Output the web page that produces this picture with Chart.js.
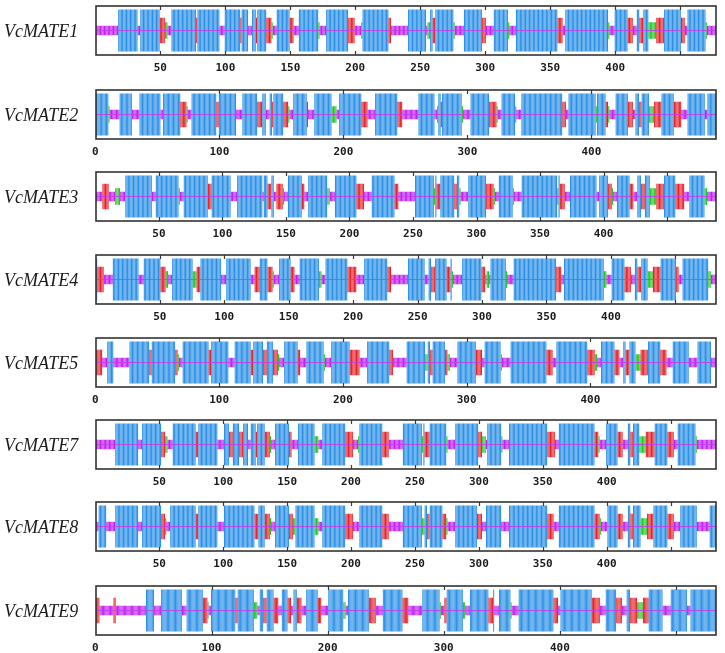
<!DOCTYPE html>
<html>
<head>
<meta charset="utf-8">
<script src="https://cdn.jsdelivr.net/npm/chart.js@4.4.1/dist/chart.umd.min.js"></script>
<style>
  body { margin: 0; background: #fff; }
  #wrap { position: relative; width: 725px; height: 653px; overflow: hidden; background: #fff; }
  .row { position: absolute; left: 0; width: 725px; height: 80px; }
  .row canvas { position: absolute; left: 0; top: 0; }
  .name { position: absolute; left: 4px; font: italic 18px "Liberation Serif", "Times New Roman", serif; color: #1a1a1a; line-height: 20px; }
</style>
</head>
<body>
<div id="wrap"></div>
<script>
// h = alpha helix, e = extended strand, t = beta turn, c = random coil
// segments are [state, first residue, last residue]
const VcMATE1 = [['c',1,17],['h',18,32],['c',33,34],['h',35,49],['e',50,53],['t',54,55],['c',56,58],['h',59,77],['e',78,78],['h',79,95],['c',96,99],['h',100,111],['e',112,112],['h',113,117],['c',118,120],['h',121,123],['e',124,124],['h',125,131],['e',132,135],['t',136,136],['c',137,139],['h',140,149],['e',150,152],['c',153,156],['h',157,171],['t',172,172],['c',173,177],['h',178,194],['e',195,199],['c',200,204],['t',205,205],['h',206,225],['e',226,227],['c',228,240],['h',241,254],['c',255,255],['t',256,257],['h',258,259],['e',260,261],['h',262,275],['t',276,276],['c',277,283],['h',284,297],['e',298,300],['c',301,306],['h',307,317],['t',318,318],['c',319,323],['h',324,355],['e',356,359],['c',360,361],['h',362,394],['t',395,395],['c',396,399],['h',400,409],['e',410,413],['c',414,416],['h',417,418],['e',419,421],['h',422,425],['t',426,431],['e',432,437],['h',438,450],['e',451,453],['c',454,455],['h',456,469],['t',470,470],['c',471,477]];
const VcMATE2 = [['h',1,10],['t',11,11],['c',12,19],['h',20,29],['c',30,35],['h',36,52],['c',53,54],['h',55,68],['e',69,73],['t',74,74],['c',75,77],['h',78,97],['e',98,99],['h',100,113],['c',114,118],['h',119,130],['e',131,134],['h',135,137],['c',138,140],['h',141,142],['e',143,143],['h',144,151],['e',152,155],['t',156,156],['c',157,159],['h',160,170],['e',171,171],['c',172,176],['h',177,190],['t',191,194],['c',195,196],['h',197,214],['e',215,219],['c',220,225],['h',226,243],['e',244,247],['c',248,260],['h',261,273],['c',274,275],['t',276,276],['h',277,278],['e',279,279],['h',280,295],['t',296,296],['c',297,302],['h',303,317],['e',318,323],['t',324,324],['c',325,327],['h',328,338],['t',339,339],['c',340,343],['h',344,376],['e',377,379],['c',380,381],['h',382,403],['t',404,404],['h',405,411],['e',412,413],['t',414,414],['c',415,419],['h',420,429],['e',430,433],['c',434,435],['h',436,438],['e',439,440],['h',441,446],['t',447,450],['e',451,456],['h',457,466],['e',467,472],['c',473,477],['h',478,491],['c',492,493],['h',494,500]];
const VcMATE3 = [['c',1,5],['e',6,10],['c',11,15],['t',16,19],['c',20,23],['h',24,44],['c',45,47],['h',48,65],['t',66,66],['c',67,69],['h',70,88],['e',89,91],['h',92,106],['c',107,111],['h',112,131],['c',132,132],['h',133,135],['e',136,138],['h',139,140],['c',141,142],['e',143,147],['t',148,148],['c',149,151],['h',152,162],['e',163,164],['c',165,167],['h',168,182],['t',183,184],['c',185,188],['h',189,205],['e',206,211],['c',212,217],['h',218,235],['e',236,238],['c',239,251],['h',252,266],['t',267,267],['h',268,268],['e',269,271],['h',272,282],['e',283,284],['h',285,286],['t',287,287],['c',288,293],['h',294,307],['e',308,313],['t',314,314],['c',315,317],['h',318,328],['t',329,329],['c',330,335],['h',336,363],['t',364,364],['h',365,365],['e',366,369],['c',370,373],['h',374,394],['c',395,396],['h',397,403],['e',404,406],['t',407,407],['c',408,410],['h',411,420],['e',421,423],['c',424,426],['h',427,429],['e',430,432],['h',433,436],['t',437,441],['e',442,447],['h',448,456],['e',457,463],['c',464,467],['h',468,479],['t',480,481],['c',482,488]];
const VcMATE4 = [['h',1,1],['e',2,6],['c',7,13],['h',14,33],['c',34,37],['h',38,50],['e',51,54],['t',55,56],['c',57,59],['h',60,75],['t',76,78],['e',79,81],['h',82,97],['c',98,101],['h',102,120],['c',121,123],['e',124,127],['h',128,133],['e',134,137],['t',138,138],['c',139,142],['h',143,151],['e',152,154],['c',155,158],['h',159,173],['t',174,175],['c',176,178],['h',179,195],['e',196,202],['c',203,208],['h',209,226],['e',227,229],['c',230,242],['h',243,255],['c',256,258],['h',259,260],['e',261,263],['h',264,272],['e',273,275],['h',276,276],['t',277,277],['c',278,284],['h',285,299],['e',300,302],['c',303,303],['t',304,305],['c',306,306],['h',307,318],['t',319,319],['c',320,324],['h',325,357],['e',358,361],['c',362,363],['h',364,394],['t',395,396],['c',397,400],['h',401,410],['e',411,415],['c',416,418],['h',419,420],['e',421,423],['h',424,428],['t',429,432],['e',433,438],['h',439,450],['e',451,452],['c',453,455],['h',456,475],['t',476,477],['c',478,481]];
const VcMATE5 = [['e',1,5],['c',6,9],['h',10,14],['c',15,27],['h',28,43],['e',44,45],['h',46,64],['e',65,66],['t',67,67],['c',68,70],['h',71,91],['e',92,93],['h',94,107],['c',108,112],['h',113,125],['e',126,127],['h',128,135],['e',136,138],['h',139,143],['e',144,147],['t',148,148],['c',149,152],['h',153,163],['e',164,165],['c',166,170],['h',171,184],['t',185,185],['c',186,190],['h',191,205],['e',206,213],['c',214,219],['h',220,237],['e',238,240],['c',241,251],['h',252,266],['t',267,268],['h',269,270],['e',271,272],['h',273,282],['e',283,284],['t',285,286],['c',287,292],['h',293,307],['e',308,312],['c',313,314],['h',315,327],['t',328,328],['c',329,335],['h',336,364],['e',365,369],['c',370,372],['h',373,397],['e',398,403],['t',404,405],['c',406,408],['h',409,419],['e',420,423],['c',424,426],['h',427,428],['e',429,431],['h',432,436],['t',437,440],['e',441,446],['h',447,456],['e',457,461],['c',462,466],['h',467,479],['c',480,486],['h',487,497],['c',498,501]];
const VcMATE7 = [['c',1,15],['h',16,33],['c',34,36],['h',37,51],['e',52,54],['t',55,56],['c',57,60],['h',61,78],['e',79,80],['h',81,95],['c',96,100],['h',101,104],['e',105,107],['h',108,112],['e',113,115],['h',116,119],['c',120,121],['h',122,125],['e',126,126],['h',127,132],['e',133,136],['t',137,137],['c',138,140],['h',141,151],['e',152,153],['c',154,158],['h',159,171],['t',172,174],['c',175,177],['h',178,195],['e',196,201],['c',202,205],['t',206,206],['h',207,224],['e',225,229],['c',230,240],['h',241,255],['t',256,256],['h',257,257],['e',258,261],['h',262,274],['t',275,275],['c',276,281],['h',282,299],['e',300,302],['t',303,305],['c',306,306],['h',307,317],['t',318,318],['c',319,323],['h',324,353],['e',354,359],['c',360,362],['h',363,390],['e',391,393],['t',394,394],['c',395,399],['h',400,408],['e',409,412],['c',413,416],['h',417,418],['e',419,420],['h',421,425],['t',426,430],['e',431,437],['h',438,447],['e',448,452],['c',453,455],['h',456,469],['t',470,470],['c',471,485]];
const VcMATE8 = [['c',1,2],['h',3,8],['c',9,15],['h',16,33],['c',34,36],['h',37,51],['e',52,54],['t',55,55],['c',56,58],['h',59,78],['e',79,80],['h',81,95],['c',96,100],['h',101,124],['e',125,127],['h',128,132],['e',133,136],['t',137,137],['c',138,140],['h',141,151],['e',152,154],['t',155,156],['h',157,171],['t',172,174],['c',175,177],['h',178,195],['e',196,201],['c',202,206],['h',207,224],['e',225,229],['c',230,240],['h',241,255],['t',256,257],['h',258,259],['e',260,261],['h',262,271],['e',272,274],['t',275,275],['c',276,281],['h',282,298],['e',299,302],['c',303,305],['h',306,317],['c',318,323],['h',324,353],['e',354,358],['c',359,362],['h',363,390],['e',391,394],['t',395,395],['c',396,400],['h',401,408],['e',409,412],['c',413,416],['h',417,418],['e',419,420],['h',421,426],['t',427,431],['e',432,436],['h',437,447],['e',448,452],['c',453,457],['h',458,470],['c',471,480],['h',481,485]];
const VcMATE9 = [['e',1,3],['c',4,15],['e',16,17],['c',18,43],['h',44,50],['c',51,56],['h',57,74],['c',75,78],['h',79,92],['e',93,96],['t',97,97],['c',98,99],['h',100,120],['e',121,122],['h',123,136],['t',137,139],['c',140,141],['h',142,144],['e',145,147],['h',148,153],['e',154,157],['c',158,160],['h',161,165],['e',166,168],['c',169,170],['h',171,173],['e',174,177],['c',178,181],['h',182,191],['e',192,194],['c',195,200],['h',201,213],['t',214,215],['c',216,217],['h',218,235],['e',236,241],['c',242,247],['h',248,264],['e',265,269],['c',270,281],['h',282,296],['t',297,297],['c',298,300],['e',301,302],['h',303,316],['t',317,318],['c',319,322],['h',323,338],['e',339,342],['h',343,343],['c',344,347],['h',348,357],['t',358,358],['c',359,364],['h',365,394],['e',395,398],['c',399,400],['h',401,427],['e',428,434],['c',435,439],['h',440,448],['e',449,453],['c',454,457],['h',458,460],['e',461,466],['t',467,471],['e',472,476],['h',477,488],['c',489,495],['h',496,509],['c',510,512],['h',513,534]];

const proteinNames = ['VcMATE1', 'VcMATE2', 'VcMATE3', 'VcMATE4', 'VcMATE5', 'VcMATE7', 'VcMATE8', 'VcMATE9'];
const proteinSegments = [VcMATE1, VcMATE2, VcMATE3, VcMATE4, VcMATE5, VcMATE7, VcMATE8, VcMATE9];
const proteinLengths = [477, 500, 488, 481, 501, 485, 485, 534];
const tickSteps = [50, 100, 50, 50, 100, 50, 50, 100];
const lastLabel = 400;

// drawing style
const stateColor = { h: '#2b90e6', e: '#e8222a', t: '#22c822', c: '#c21ef2' };
const stateHalf = { h: 0.86, e: 0.52, t: 0.34, c: 0.19 };
const boxTops = [6, 90, 172, 255, 338, 420, 502, 586];
const boxHeight = 49;
const padTop = 4;

const framePlugin = {
  id: 'frame',
  afterDatasetsDraw(chart) {
    const { ctx, chartArea: a, scales: { x } } = chart;
    ctx.save();
    ctx.strokeStyle = '#3a3a3a';
    ctx.lineWidth = 1.2;
    x.ticks.forEach(t => {
      const px = Math.round(x.getPixelForValue(t.value)) + 0.5;
      if (px < a.left + 2 || px > a.right - 2) return;
      ctx.beginPath();
      ctx.moveTo(px, a.top); ctx.lineTo(px, a.top + 4);
      ctx.moveTo(px, a.bottom - 4); ctx.lineTo(px, a.bottom);
      ctx.stroke();
    });
    ctx.lineWidth = 1.6;
    ctx.strokeStyle = '#333';
    ctx.strokeRect(a.left, a.top, a.right - a.left, a.bottom - a.top);
    ctx.restore();
  }
};

const wrap = document.getElementById('wrap');

proteinNames.forEach((name, k) => {
  const n = proteinLengths[k];
  const step = tickSteps[k];

  const states = new Array(n).fill('c');
  proteinSegments[k].forEach(([s, from, to]) => {
    for (let i = from; i <= to; i++) states[i - 1] = s;
  });

  const row = document.createElement('div');
  row.className = 'row';
  row.style.top = (boxTops[k] - padTop) + 'px';
  const canvas = document.createElement('canvas');
  canvas.width = 725;
  canvas.height = 80;
  row.appendChild(canvas);
  const label = document.createElement('div');
  label.className = 'name';
  label.textContent = name;
  label.style.top = (padTop + boxHeight / 2 - 10) + 'px';
  row.appendChild(label);
  wrap.appendChild(row);

  const tickValues = [];
  for (let v = (step === 50 ? 50 : 0); v <= n; v += step) tickValues.push(v);

  new Chart(canvas, {
    type: 'bar',
    data: {
      datasets: [
        {
          type: 'line',
          data: [{ x: 0.5, y: 0 }, { x: n + 0.5, y: 0 }],
          borderColor: 'rgba(196, 60, 235, 0.85)',
          borderWidth: 1,
          pointRadius: 0,
          order: 0
        },
        {
          type: 'bar',
          data: states.map((s, i) => ({ x: i + 1, y: [-stateHalf[s], stateHalf[s]] })),
          backgroundColor: states.map(s => stateColor[s]),
          borderWidth: 0,
          categoryPercentage: 1,
          barPercentage: 0.85,
          order: 1
        }
      ]
    },
    options: {
      responsive: false,
      animation: false,
      layout: { padding: { left: 96, right: 9, top: padTop, bottom: 0 } },
      plugins: { legend: { display: false }, tooltip: { enabled: false } },
      scales: {
        x: {
          type: 'linear',
          min: 0.5,
          max: n + 0.5,
          offset: false,
          border: { display: false },
          grid: { display: false, offset: false, drawTicks: false },
          afterBuildTicks: (scale) => {
            scale.ticks = tickValues.map(v => ({ value: v }));
          },
          afterFit: (scale) => { scale.height = 80 - padTop - boxHeight; },
          ticks: {
            autoSkip: false,
            maxRotation: 0,
            padding: 7,
            color: '#1a1a1a',
            font: { family: 'DejaVu Sans Mono', size: 11, weight: 'bold' },
            callback: (v) => (v <= lastLabel ? String(v) : '')
          }
        },
        y: { display: false, min: -1, max: 1 }
      }
    },
    plugins: [framePlugin]
  });
});
</script>
</body>
</html>
